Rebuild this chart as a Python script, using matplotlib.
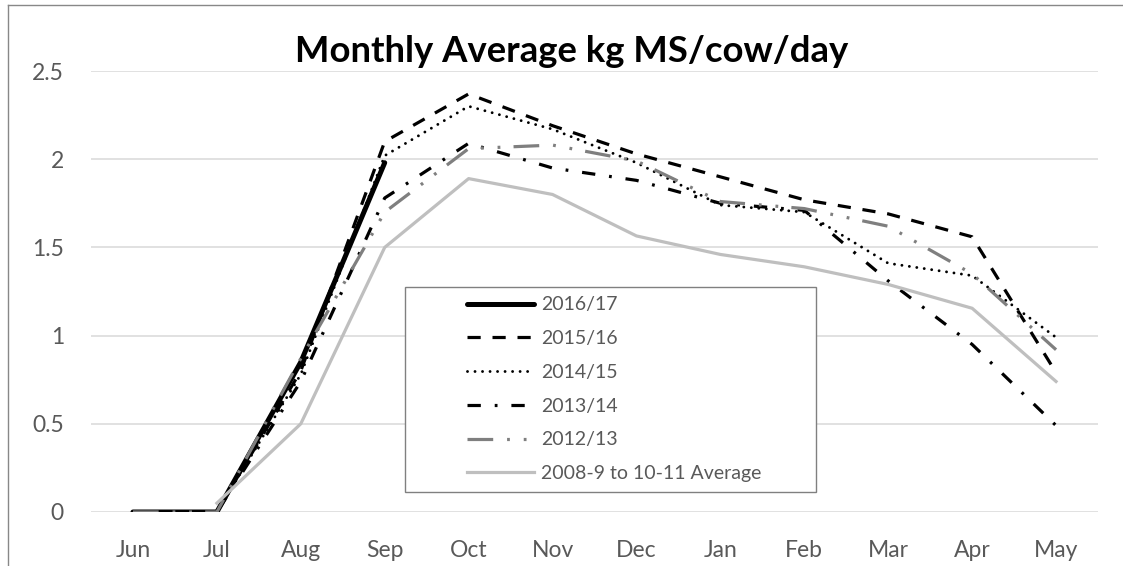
import numpy as np
import matplotlib
matplotlib.use("Agg")
from matplotlib import pyplot as plt
from matplotlib.lines import Line2D
from matplotlib.patches import Rectangle

plt.rcParams['font.family'] = ['Lato', 'DejaVu Sans']
plt.rcParams['lines.scale_dashes'] = False

nan = np.nan
months = ['Jun', 'Jul', 'Aug', 'Sep', 'Oct', 'Nov', 'Dec', 'Jan', 'Feb', 'Mar', 'Apr', 'May']

s1617 = [0, 0, 0.85, 1.98, nan, nan, nan, nan, nan, nan, nan, nan]
s1516 = [0, 0, 0.80, 2.10, 2.37, 2.19, 2.03, 1.90, 1.77, 1.69, 1.56, 0.79]
s1415 = [0, 0, 0.78, 2.02, 2.30, 2.17, 1.98, 1.74, 1.70, 1.41, 1.34, 0.99]
s1314 = [0, 0, 0.74, 1.78, 2.09, 1.95, 1.88, 1.75, 1.71, 1.31, 0.95, 0.49]
s1213 = [0, 0, 0.87, 1.70, 2.06, 2.08, 1.99, 1.76, 1.72, 1.62, 1.35, 0.92]
s_avg = [nan, 0.05, 0.50, 1.50, 1.89, 1.80, 1.565, 1.46, 1.39, 1.29, 1.155, 0.74]

labels = ['2016/17', '2015/16', '2014/15', '2013/14', '2012/13', '2008-9 to 10-11 Average']
yticks = [0, 0.5, 1, 1.5, 2, 2.5]
ytick_labels = ['0', '0.5', '1', '1.5', '2', '2.5']

W, H = 1123, 566
fig = plt.figure(figsize=(W / 100, H / 100), dpi=100)
ax = fig.add_axes([91 / W, 1 - 512 / H, (1098 - 91) / W, (512 - 71) / H])

x = np.arange(len(months))

# series in legend order, later ones drawn on top (like Excel)
styles = [
    (s1617, dict(color='black', lw=3.6, ls='-', solid_capstyle='round')),
    (s1516, dict(color='black', lw=2.3, ls=(0, (9.5, 8.5)))),
    (s1415, dict(color='black', lw=2.1, ls=(0, (0.01, 5.4)), dash_capstyle='round')),
    (s1314, dict(color='black', lw=2.3, ls=(0, (9.6, 10, 2, 10)))),
    (s1213, dict(color='#7F7F7F', lw=2.3, ls=(0, (18.5, 10, 2, 10, 2, 9.5)))),
    (s_avg, dict(color='#BFBFBF', lw=2.3, ls='-')),
]
handles = []
for i, (data, kw) in enumerate(styles):
    ln, = ax.plot(x, data, zorder=2 + i * 0.1, **kw)
    handles.append(ln)

ax.set_xlim(-0.5, 11.5)
ax.set_ylim(0, 2.5)
ax.set_xticks(x)
ax.set_xticklabels(months)
ax.set_yticks(yticks)
ax.set_yticklabels(ytick_labels)
ax.tick_params(axis='both', length=0, labelsize=16.5, colors='#595959')
ax.tick_params(axis='x', pad=20)
ax.tick_params(axis='y', pad=19.5)
ax.yaxis.grid(True, color='#D9D9D9', lw=1.1)
ax.set_axisbelow(True)
for sp in ax.spines.values():
    sp.set_visible(False)

fig.text(572 / W, 1 - 62.5 / H, 'Monthly Average kg MS/cow/day', ha='center', va='baseline',
         fontsize=26.3, fontweight='bold', color='black')

# legend box and entries
fig.patches.append(Rectangle((405 / W, 1 - 492 / H), (816 - 405) / W, (492 - 287) / H,
                             transform=fig.transFigure, fill=True, facecolor='white',
                             edgecolor='#808080', lw=1, zorder=5))
leg = fig.legend(handles, labels, loc='upper left', bbox_to_anchor=(467 / W, 1 - 296.5 / H),
                 frameon=False, fontsize=14, handlelength=3.45, handletextpad=0.35,
                 labelspacing=0.86, borderpad=0, borderaxespad=0)
leg.set_zorder(6)
for t in leg.get_texts():
    t.set_color('#595959')

# outer chart border
fig.add_artist(Line2D([8 / W, 8 / W], [0, 1 - 5 / H], transform=fig.transFigure, color='#888888', lw=1))
fig.add_artist(Line2D([8 / W, 1], [1 - 5 / H, 1 - 5 / H], transform=fig.transFigure, color='#888888', lw=1))

fig.savefig('out.png', dpi=100)
